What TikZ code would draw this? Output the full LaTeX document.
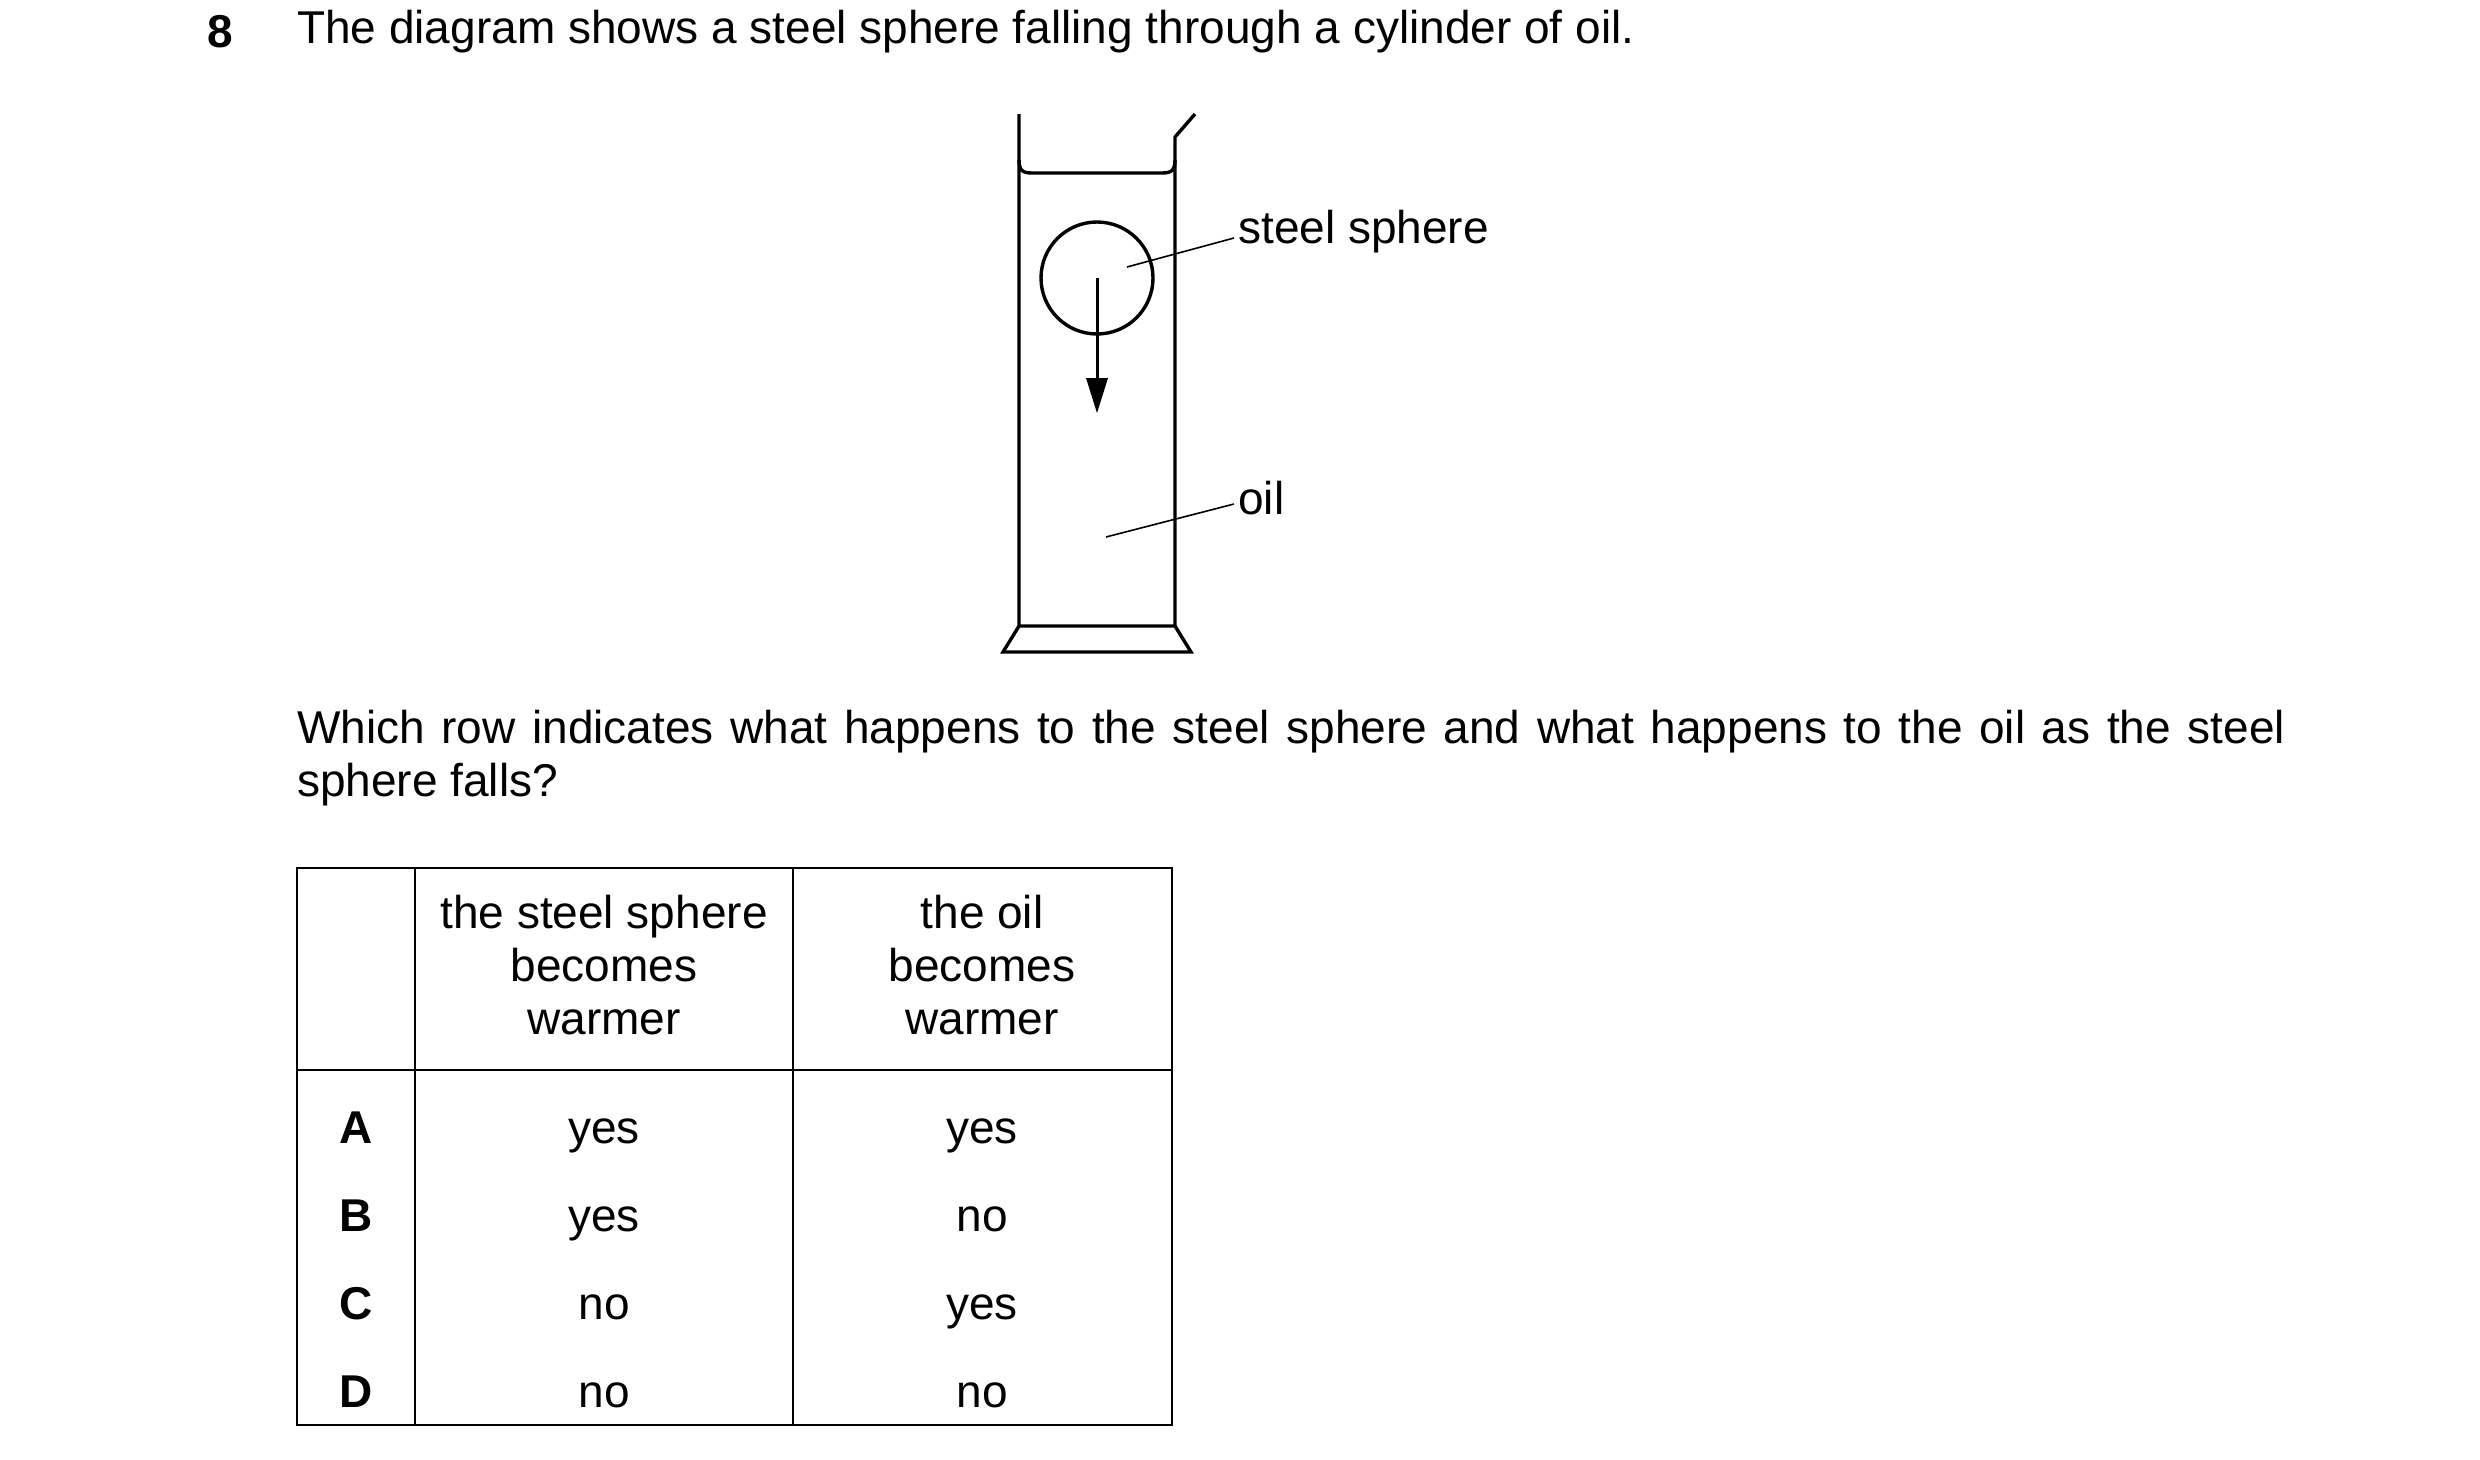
\documentclass[tikz,border=0pt]{standalone}
\usepackage{fontspec}
\setmainfont{Liberation Sans}
\begin{document}
\begin{tikzpicture}[x=1pt,y=-1pt,
  txt/.style={font=\fontsize{46}{53}\selectfont,inner sep=0pt},
  bold/.style={font=\fontsize{46}{53}\selectfont\bfseries,inner sep=0pt},
  wall/.style={line width=3.4pt},
  lead/.style={line width=1.6pt},
  grid/.style={line width=2pt}]
\useasboundingbox (0,0) rectangle (2480,1459);
\node[bold,anchor=west] (num) at (207,32) {8};
\node[txt,anchor=west] (title) at (297,32) {The diagram shows a steel sphere falling through a cylinder of oil.};
% cylinder
\draw[wall,line join=round] (1019,114) -- (1019,626) -- (1175,626) -- (1175,137) -- (1195,114);
\draw[wall] (1019,160) .. controls (1019,173) and (1025,173) .. (1035,173) -- (1159,173) .. controls (1169,173) and (1175,173) .. (1175,160);
\draw[wall,line join=miter] (1019,626) -- (1003,652) -- (1191,652) -- (1175,626);
\node[draw,circle,wall,minimum size=112pt,inner sep=0pt] (sph) at (1097,278) {};
\coordinate (c) at (1097,278);
\coordinate (tip) at (1097,413);
\draw[line width=3pt] (c) -- (1097,380);
\fill (1086,378) -- (tip) -- (1108,378) -- cycle;
% labels
\node[txt,anchor=west] (lss) at (1238,232) {steel sphere};
\node[txt,anchor=west] (loil) at (1238,498) {oil};
\coordinate (s1) at (1127,267); \coordinate (s2) at (1234,238);
\coordinate (o1) at (1106,537); \coordinate (o2) at (1234,504);
\draw[lead] (s1) -- (s2);
\draw[lead] (o1) -- (o2);
% question
\node[txt,anchor=north west,text width=1988pt,align=justify] (q) at (297,710)
 {Which row indicates what happens to the steel sphere and what happens to the oil as the steel sphere falls?};
% table
\draw[grid] (297,868) rectangle (1172,1425);
\draw[grid] (297,1070) -- (1172,1070);
\draw[grid] (415,868) -- (415,1425);
\draw[grid] (793,868) -- (793,1425);
\node[txt,align=center] (h1) at (604,965) {the steel sphere\\becomes\\warmer};
\node[txt,align=center] (h2) at (982,965) {the oil\\becomes\\warmer};
\foreach \L/\a/\b/\y in {A/yes/yes/1143,B/yes/no/1231,C/no/yes/1319,D/no/no/1407}{
  \node[bold,anchor=base] (r\L) at (356,\y) {\L};
  \node[txt,anchor=base] (a\L) at (604,\y) {\a};
  \node[txt,anchor=base] (b\L) at (982,\y) {\b};
}
\end{tikzpicture}
\end{document}
